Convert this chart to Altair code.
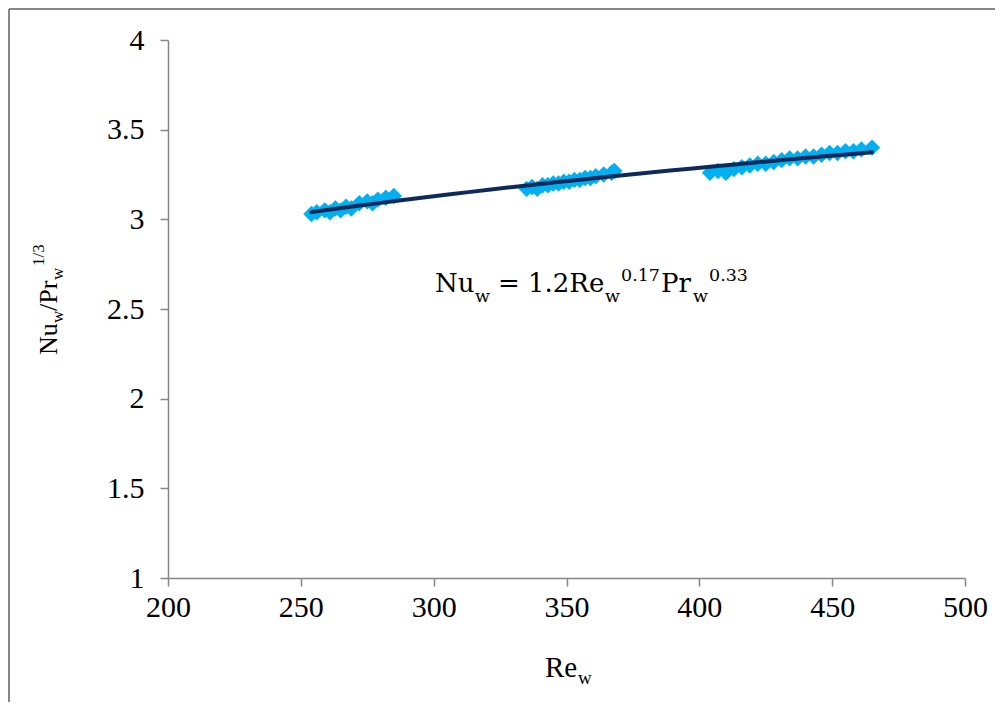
import altair as alt
import pandas as pd

# ---- data ----
re_w = [254, 256, 259, 261, 263, 265, 267, 269, 272, 275, 277, 279, 282, 285,
        335, 337, 339, 341, 343, 345, 347, 349, 351, 353, 355, 357, 359, 361, 364, 367, 368,
        404, 407, 410, 413, 416, 419, 422, 425, 428, 431, 434, 437, 440, 443, 446, 449,
        452, 455, 458, 461, 465]
nu_pr = [3.03, 3.04, 3.05, 3.04, 3.06, 3.05, 3.07, 3.06, 3.09, 3.10, 3.09, 3.11, 3.12, 3.13,
         3.17, 3.18, 3.17, 3.19, 3.19, 3.20, 3.20, 3.21, 3.21, 3.22, 3.22, 3.23, 3.23, 3.24, 3.25, 3.26, 3.27,
         3.26, 3.27, 3.26, 3.28, 3.29, 3.30, 3.31, 3.31, 3.32, 3.33, 3.34, 3.34, 3.35, 3.35, 3.36, 3.37,
         3.37, 3.38, 3.38, 3.39, 3.40]
x_ticks = [200, 250, 300, 350, 400, 450, 500]
y_ticks = [1, 1.5, 2, 2.5, 3, 3.5, 4]

df = pd.DataFrame({"Re": re_w, "NuPr": nu_pr})

W, H = 797, 538
AXIS_GRAY = "#868686"
POINT_COLOR = "#00B0F0"
LINE_COLOR = "#0E2A5B"
SERIF = "Times New Roman, Liberation Serif, Times, serif"
EQ_FONT = "DejaVu Serif"

x_scale = alt.Scale(domain=[200, 500], nice=False, zero=False)
y_scale = alt.Scale(domain=[1, 4], nice=False, zero=False)

points = alt.Chart(df).mark_point(
    shape="diamond", filled=True, size=270, color=POINT_COLOR, opacity=1
).encode(
    x=alt.X("Re:Q", scale=x_scale,
            axis=alt.Axis(values=x_ticks, title=None, labelPadding=6, tickSize=8,
                          labelFlush=False)),
    y=alt.Y("NuPr:Q", scale=y_scale,
            axis=alt.Axis(values=y_ticks, title=None, format="~g", labelPadding=16,
                          tickSize=8, labelFlush=False)),
)

trend = alt.Chart(df).transform_regression(
    "Re", "NuPr", method="pow"
).mark_line(color=LINE_COLOR, strokeWidth=4, strokeCap="round").encode(
    x=alt.X("Re:Q", scale=x_scale),
    y=alt.Y("NuPr:Q", scale=y_scale),
)

one = pd.DataFrame({"_": [0]})


def txt(s, x, y, size, font=SERIF, angle=0):
    return alt.Chart(one).mark_text(
        text=s, fontSize=size, font=font, align="left", baseline="alphabetic",
        angle=angle, color="black"
    ).encode(x=alt.value(x), y=alt.value(y))


# equation annotation
eq = [
    txt("Nu", 267, 252, 26, EQ_FONT),
    txt("w", 307, 262, 17.5, EQ_FONT),
    txt("=", 330, 252, 26, EQ_FONT),
    txt("1.2Re", 360, 252, 26, EQ_FONT),
    txt("w", 437, 262, 17.5, EQ_FONT),
    txt("0.17", 453, 241, 17.5, EQ_FONT),
    txt("Pr", 493, 252, 26, EQ_FONT),
    txt("w", 525, 262, 17.5, EQ_FONT),
    txt("0.33", 541, 241, 17.5, EQ_FONT),
]

# x axis title Re_w
xt = [
    txt("Re", 377, 637, 29),
    txt("w", 410, 644, 19),
]

# y axis title Nu_w/Pr_w^(1/3), rotated
yt = [
    txt("Nu", -111, 315, 26, angle=270),
    txt("w", -105, 283, 17, angle=270),
    txt("/Pr", -111, 271, 26, angle=270),
    txt("w", -105, 240, 17, angle=270),
    txt("1/3", -124, 226, 17, angle=270),
]

# outer chart border (top and left edges visible)
border_left = alt.Chart(one).mark_rule(color=AXIS_GRAY, strokeWidth=2).encode(
    x=alt.value(-159), y=alt.value(-31), y2=alt.value(H + 200))
border_top = alt.Chart(one).mark_rule(color=AXIS_GRAY, strokeWidth=2).encode(
    x=alt.value(-159), x2=alt.value(W + 100), y=alt.value(-31))

chart = alt.layer(points, trend, *eq, *xt, *yt, border_left, border_top).properties(
    width=W, height=H,
    autosize=alt.AutoSizeParams(type="none"),
    padding={"left": 160, "top": 32, "right": 30, "bottom": 124},
).configure_view(strokeWidth=0).configure_axis(
    grid=False,
    domainColor=AXIS_GRAY, domainWidth=1.5,
    tickColor=AXIS_GRAY, tickWidth=1.5,
    labelFont=SERIF, labelFontSize=30, labelColor="black",
)

chart.save("out.html", embed_options={"renderer": "svg", "actions": False})
